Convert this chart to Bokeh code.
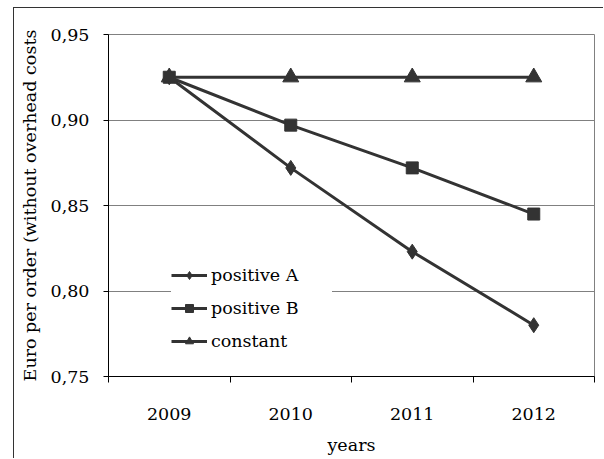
from bokeh.plotting import figure
from bokeh.models import FixedTicker, CustomJSTickFormatter, Legend, LegendItem
from bokeh.embed import file_html
from bokeh.resources import INLINE

years = ["2009", "2010", "2011", "2012"]
positive_a = [0.925, 0.872, 0.823, 0.780]
positive_b = [0.925, 0.897, 0.872, 0.845]
constant = [0.925, 0.925, 0.925, 0.925]
y_ticks = [0.75, 0.80, 0.85, 0.90, 0.95]

xs = [i + 0.5 for i in range(len(years))]
LINE = "#333333"
FONT = "DejaVu Serif"
FS = "17.5px"

p = figure(width=590, height=451, x_range=(0, len(years)), y_range=(0.75, 0.95),
           output_backend="svg", toolbar_location=None, tools="",
           min_border_left=94, min_border_right=10, min_border_top=26, min_border_bottom=83)
p.margin = (7, 0, 0, 13)
p.styles = {"border-left": "1px solid #333333", "border-top": "1px solid #333333"}

p.outline_line_color = "#808080"
p.outline_line_width = 1

# x axis
p.xaxis.ticker = FixedTicker(ticks=xs, minor_ticks=list(range(len(years) + 1)))
p.xaxis.major_label_overrides = {x: y for x, y in zip(xs, years)}
p.xaxis.major_tick_out = 0
p.xaxis.major_tick_in = 0
p.xaxis.minor_tick_out = 6
p.xaxis.minor_tick_in = 0
p.xaxis.minor_tick_line_color = "black"
p.xaxis.axis_line_color = "black"
p.xaxis.major_label_standoff = 25
p.xaxis.axis_label = "years"
p.xaxis.axis_label_standoff = 12

# y axis
p.yaxis.ticker = FixedTicker(ticks=y_ticks)
p.yaxis.formatter = CustomJSTickFormatter(code="return tick.toFixed(2).replace('.', ',');")
p.yaxis.major_tick_out = 5
p.yaxis.major_tick_in = 0
p.yaxis.minor_tick_line_color = None
p.yaxis.axis_line_color = "black"
p.yaxis.major_label_standoff = 14
p.yaxis.axis_label = "Euro per order (without overhead costs"
p.yaxis.axis_label_standoff = 8

for ax in [p.xaxis, p.yaxis]:
    ax.major_label_text_font = FONT
    ax.major_label_text_font_size = FS
    ax.major_label_text_color = "black"
    ax.axis_label_text_font = FONT
    ax.axis_label_text_font_size = FS
    ax.axis_label_text_font_style = "normal"
    ax.axis_label_text_color = "black"

p.xgrid.grid_line_color = None
p.ygrid.grid_line_color = "#808080"
p.ygrid.grid_line_width = 1

items = []
series = [("positive A", positive_a, "diamond", 15),
          ("positive B", positive_b, "square", 12),
          ("constant", constant, "triangle", 16)]
for label, vals, marker, size in series:
    l = p.line(xs, vals, line_color=LINE, line_width=3)
    s = p.scatter(xs, vals, marker=marker, size=size,
                  fill_color=LINE, line_color=LINE)
    items.append(LegendItem(label=label, renderers=[l, s]))

legend = Legend(items=items, location=(63, 25))
legend.label_text_font = FONT
legend.label_text_font_size = FS
legend.label_text_color = "black"
legend.border_line_color = None
legend.background_fill_color = "white"
legend.background_fill_alpha = 1.0
legend.padding = 20
legend.glyph_width = 36
legend.glyph_height = 20
legend.label_height = 20
legend.label_width = 121
legend.label_standoff = 4
legend.spacing = 13
legend.margin = 0
p.add_layout(legend, "center")

open("out.html", "w").write(file_html(p, INLINE))
